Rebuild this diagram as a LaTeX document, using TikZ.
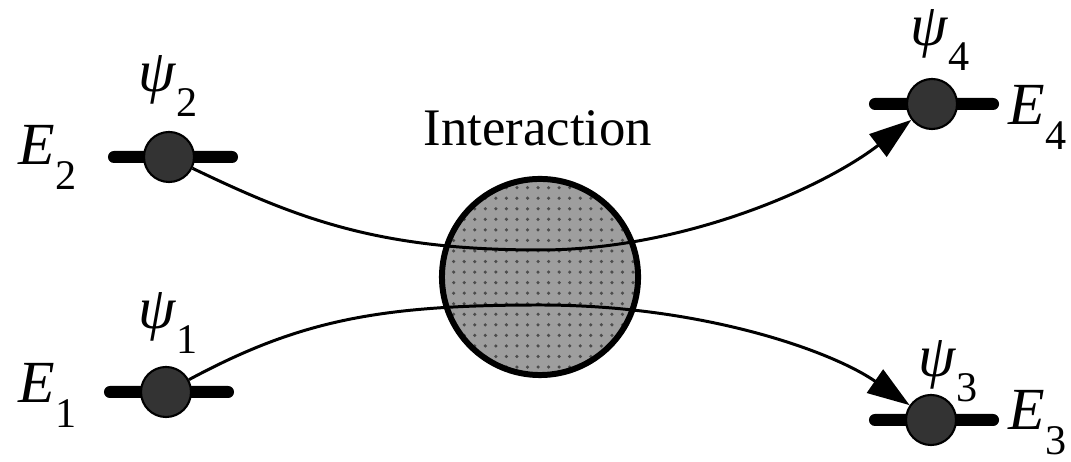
\documentclass[tikz,border=0pt]{standalone}
\usepackage{fontspec}
\setmainfont{Liberation Serif}
\usepackage{tikz}
\usetikzlibrary{
    arrows.meta,
    patterns,
    positioning
}

% italic symbol with a dropped subscript
\newcommand{\symSub}[2]{\textit{#1}\raisebox{-7pt}{\fontsize{12}{12}\selectfont #2}}

\begin{document}
\begin{tikzpicture}[
    x=0.01cm, y=-0.01cm,
    stateDot/.style={
        circle, draw=black, line width=0.6pt,
        fill=black!80, minimum size=0.5cm, inner sep=0pt
    },
    barLine/.style={
        rectangle, rounded corners=0.06cm, fill=black,
        minimum width=1.3cm, minimum height=0.12cm, inner sep=0pt
    },
    symLabel/.style={
        font=\fontsize{17}{20}\selectfont, inner sep=0pt, anchor=base west
    },
    blobStyle/.style={
        circle, draw=black, line width=1.7pt,
        preaction={fill=black!38},
        pattern=dots, pattern color=black!70,
        minimum size=1.96cm, inner sep=0pt
    },
    flowArrow/.style={
        -{Triangle[length=12pt, width=8pt]}, line width=0.85pt, draw=black
    },
    titleLabel/.style={
        font=\fontsize{15}{18}\selectfont, inner sep=0pt
    }
]
    \useasboundingbox (0,0) rectangle (1071,462);

    % Interaction region
    \node[blobStyle] (blob) at (540,277) {};
    \node[titleLabel, anchor=base] (inter) at (538,146) {Interaction};

    % Incoming and outgoing states
    \node[barLine] (bar1) at (169,392) {};
    \node[barLine] (bar2) at (173,157) {};
    \node[barLine] (bar3) at (934,420) {};
    \node[barLine] (bar4) at (934,104) {};

    \node[stateDot] (dot1) at (166,392) {};
    \node[stateDot] (dot2) at (169,157) {};
    \node[stateDot] (dot3) at (931,420) {};
    \node[stateDot] (dot4) at (932,104) {};

    % Labels
    \node[symLabel] (psi1) at (138,329) {\symSub{ψ}{1}};
    \node[symLabel] (psi2) at (138,92)  {\symSub{ψ}{2}};
    \node[symLabel] (psi3) at (918,377) {\symSub{ψ}{3}};
    \node[symLabel] (psi4) at (910,46)  {\symSub{ψ}{4}};

    \node[symLabel] (en1) at (18,403)   {\symSub{E}{1}};
    \node[symLabel] (en2) at (18,165)   {\symSub{E}{2}};
    \node[symLabel] (en3) at (1008,430) {\symSub{E}{3}};
    \node[symLabel] (en4) at (1008,125) {\symSub{E}{4}};

    % Trajectories through the interaction
    \draw[flowArrow] (dot2) .. controls (300,220) and (380,250) .. (540,250)
        .. controls (680,250) and (820,190) .. (dot4);
    \draw[flowArrow] (dot1) .. controls (300,320) and (380,305) .. (540,305)
        .. controls (700,305) and (830,350) .. (dot3);

\end{tikzpicture}
\end{document}
